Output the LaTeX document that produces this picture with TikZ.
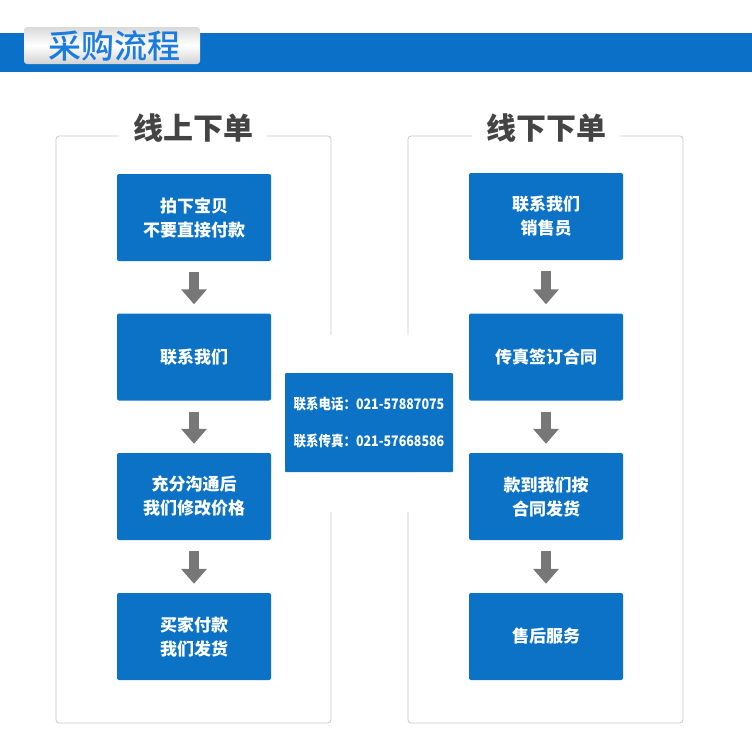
\documentclass[tikz,border=0pt]{standalone}
\usepackage{fontspec}
\usepackage{graphicx}
\setmainfont{Noto Sans CJK SC}
\newfontfamily\medfont{Noto Sans CJK SC Medium}
\usetikzlibrary{arrows.meta, positioning}
\definecolor{barblue}{HTML}{0A70C8}
\definecolor{blkfill}{HTML}{0B72C6}
\definecolor{titleblue}{HTML}{1A7CE0}
\definecolor{panelline}{HTML}{C8C8C8}
\definecolor{arrowgray}{HTML}{777777}
\definecolor{headtext}{HTML}{444444}
\tikzset{
  stepbox/.style = {rectangle, rounded corners=2pt, fill=blkfill, text=white,
                    align=center, font=\fontsize{17}{24}\selectfont\bfseries,
                    minimum width=154pt, minimum height=87pt, inner sep=0pt},
  contact/.style = {rectangle, rounded corners=1pt, fill=blkfill, text=white,
                    align=left, font=\fontsize{14.5}{37}\selectfont\bfseries,
                    minimum width=168pt, minimum height=99pt, inner sep=0pt},
  panel/.style   = {draw=panelline, rounded corners=3pt, line width=0.8pt},
  paneltitle/.style = {fill=white, text=headtext, font=\fontsize{30}{32}\selectfont\bfseries,
                    inner xsep=14pt, inner ysep=2pt},
  flow/.style    = {draw=arrowgray, line width=10pt, shorten <=11pt, shorten >=9pt,
                    -{Triangle[length=15pt, width=25pt]}},
}
\begin{document}
\begin{tikzpicture}[x=1pt, y=-1pt]
  \useasboundingbox (0,0) rectangle (752,745);
  % header bar and tab
  \fill[barblue] (0,33) rectangle (752,72);
  \shade[rounded corners=3pt, top color=gray!30, bottom color=gray!35, middle color=white]
    (24,27) rectangle (200,64);
  \node[text=titleblue, font=\fontsize{33}{33}\selectfont\medfont] (title) at (114,46) {采购流程};
  % panels
  \draw[panel] (56,136) rectangle (331,723);
  \draw[panel] (408,136) rectangle (683,723);
  \node[paneltitle] (online) at (193,128) {线上下单};
  \node[paneltitle] (offline) at (546,128) {线下下单};
  % online steps
  \node[stepbox] (l1) at (194,217.5) {拍下宝贝\\不要直接付款};
  \node[stepbox] (l2) at (194,357) {联系我们};
  \node[stepbox] (l3) at (194,496.5) {充分沟通后\\我们修改价格};
  \node[stepbox] (l4) at (194,636.5) {买家付款\\我们发货};
  % offline steps
  \node[stepbox] (r1) at (546,216.5) {联系我们\\销售员};
  \node[stepbox] (r2) at (546,357) {传真签订合同};
  \node[stepbox] (r3) at (546,496.5) {款到我们按\\合同发货};
  \node[stepbox] (r4) at (546,636.5) {售后服务};
  \foreach \a/\b in {1/2,2/3,3/4}{
    \draw[flow] (l\a) -- (l\b);
    \draw[flow] (r\a) -- (r\b);
  }
  % contact box
  \fill[white] (318,335) rectangle (421,512);
  \node[contact] (info) at (369,422.5)
    {\scalebox{0.86}[1]{联系电话：021-57887075}\\\scalebox{0.86}[1]{联系传真：021-57668586}};
\end{tikzpicture}
\end{document}
